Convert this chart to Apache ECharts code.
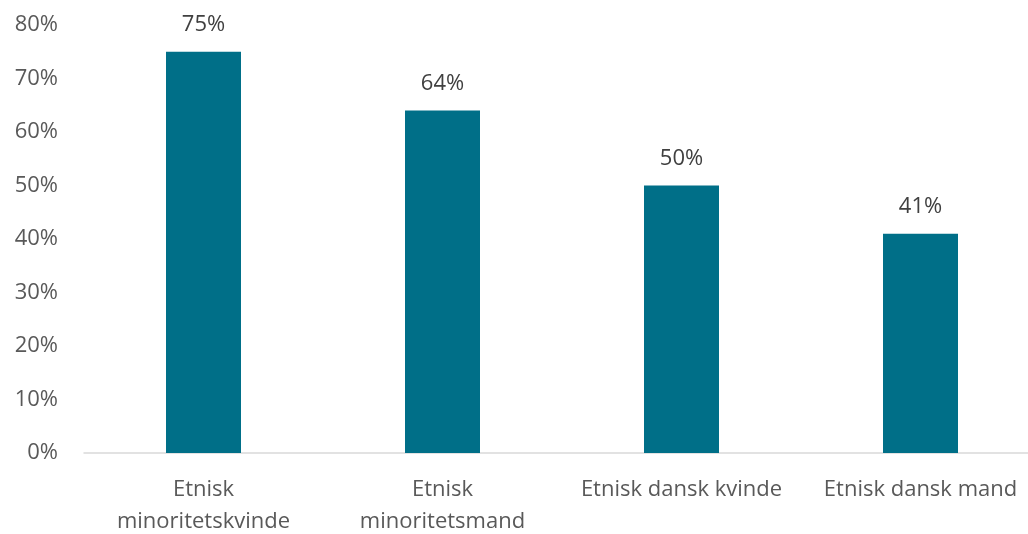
<!DOCTYPE html>
<html><head><meta charset="utf-8">
<script src="https://cdn.jsdelivr.net/npm/echarts@6/dist/echarts.min.js"></script>
<style>html,body{margin:0;padding:0;background:#fff}#c{width:1028px;height:534px}</style>
</head><body><div id="c"></div>
<script>
const categories = ["Etnisk\nminoritetskvinde", "Etnisk\nminoritetsmand", "Etnisk dansk kvinde", "Etnisk dansk mand"];
const values = [75, 64, 50, 41];
const yTicks = {min: 0, max: 80, interval: 10};
const font = "'Open Sans', sans-serif";
const chart = echarts.init(document.getElementById('c'), null, {renderer: 'canvas'});
chart.setOption({
  animation: false,
  grid: {left: 84, width: 956, top: 25, height: 428, containLabel: false, outerBoundsMode: 'none'},
  xAxis: {
    type: 'category', data: categories,
    axisLine: {lineStyle: {color: '#d9d9d9', width: 1.5}},
    axisTick: {show: false},
    axisLabel: {color: '#595959', fontSize: 22, fontFamily: font, margin: 21, lineHeight: 32, interval: 0}
  },
  yAxis: {
    type: 'value', min: yTicks.min, max: yTicks.max, interval: yTicks.interval,
    axisLine: {show: false}, axisTick: {show: false}, splitLine: {show: false},
    axisLabel: {color: '#595959', fontSize: 22, fontFamily: font, margin: 26, formatter: v => v + '%'}
  },
  series: [{
    type: 'bar', data: values, barWidth: 75,
    itemStyle: {color: '#006F88'},
    label: {show: true, position: 'top', distance: 16, color: '#404040', fontSize: 22, fontFamily: font, formatter: p => p.value + '%'}
  }]
});
</script></body></html>
